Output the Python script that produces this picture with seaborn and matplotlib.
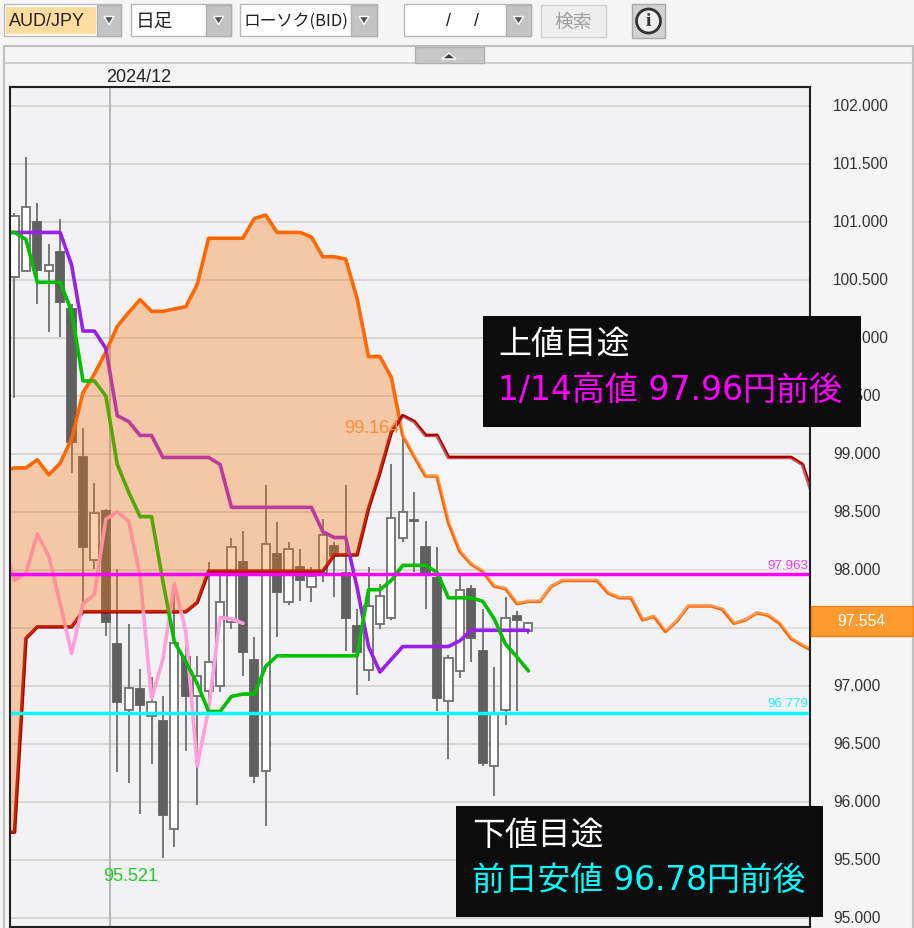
import numpy as np
import pandas as pd
import matplotlib
matplotlib.use('Agg')
import matplotlib.pyplot as plt
import seaborn as sns
from matplotlib.patches import Rectangle, Polygon, Ellipse
from matplotlib.transforms import ScaledTranslation

# AUD/JPY daily chart
opens = [100.53, 100.58, 101.00, 100.58, 100.74, 100.25, 98.97, 98.09, 98.51, 97.36,
         96.79, 96.97, 96.74, 96.70, 95.77, 97.25, 96.91, 96.96, 97.00, 97.55,
         98.07, 97.22, 96.27, 98.14, 97.72, 98.03, 97.85, 97.97, 98.21, 97.97,
         97.52, 97.14, 97.53, 97.59, 98.28, 98.43, 98.20, 97.93, 96.87, 97.13,
         97.84, 97.30, 96.31, 96.79, 97.60, 97.47]
highs = [101.08, 101.56, 101.16, 100.81, 101.03, 100.29, 99.22, 98.75, 98.53, 98.01,
         97.53, 97.15, 97.08, 96.91, 97.88, 97.47, 97.26, 98.07, 97.99, 98.28,
         98.34, 97.42, 98.73, 98.41, 98.24, 98.18, 98.03, 98.44, 98.24, 98.73,
         97.66, 98.03, 97.88, 98.91, 99.16, 98.67, 98.42, 98.20, 97.27, 97.95,
         97.87, 97.66, 97.16, 97.77, 97.65, 97.55]
lows = [99.48, 100.58, 100.29, 100.05, 100.01, 98.84, 97.71, 98.01, 97.43, 96.26,
        96.16, 95.90, 96.33, 95.52, 95.61, 96.44, 95.97, 96.86, 96.95, 97.49,
        97.09, 96.16, 95.79, 97.42, 97.70, 97.73, 97.72, 97.90, 97.77, 97.30,
        96.92, 97.04, 97.49, 97.57, 98.24, 97.98, 97.66, 96.78, 96.37, 97.07,
        97.21, 96.31, 96.05, 96.66, 96.78, 97.45]
closes = [101.05, 101.13, 100.59, 100.63, 100.31, 99.10, 98.20, 98.49, 97.55, 96.86,
          96.98, 96.84, 96.86, 95.89, 97.37, 96.91, 97.09, 97.21, 97.72, 98.20,
          97.29, 96.22, 98.22, 97.81, 98.18, 97.91, 97.95, 98.30, 98.12, 97.59,
          97.29, 97.69, 97.78, 98.45, 98.50, 98.42, 97.97, 96.90, 97.24, 97.83,
          97.41, 96.34, 96.76, 97.59, 97.57, 97.54]

# these four start one day left of the first candle (clipped by the frame)
tenkan = [100.91, 100.91, 100.85, 100.48, 100.48, 100.48, 100.23, 99.63, 99.63, 99.50,
          98.91, 98.67, 98.46, 98.46, 97.90, 97.38, 97.21, 97.02, 96.78, 96.78,
          96.91, 96.93, 96.93, 97.17, 97.26, 97.26, 97.26, 97.26, 97.26, 97.26,
          97.26, 97.26, 97.83, 97.83, 97.91, 98.04, 98.04, 98.04, 97.98, 97.76,
          97.76, 97.76, 97.73, 97.58, 97.36, 97.25, 97.13]
kijun = [100.91, 100.91, 100.91, 100.91, 100.91, 100.91, 100.63, 100.06, 100.06, 99.91,
         99.33, 99.28, 99.16, 99.16, 98.97, 98.97, 98.97, 98.97, 98.97, 98.91,
         98.54, 98.54, 98.54, 98.54, 98.54, 98.54, 98.54, 98.54, 98.33, 98.28,
         98.28, 97.85, 97.34, 97.12, 97.23, 97.34, 97.34, 97.34, 97.34, 97.34,
         97.39, 97.48, 97.48, 97.48, 97.48, 97.48, 97.48]
span_a = [98.85, 98.88, 98.88, 98.95, 98.82, 98.92, 99.13, 99.53, 99.69, 99.88,
          100.10, 100.22, 100.33, 100.23, 100.23, 100.25, 100.27, 100.46, 100.86, 100.86,
          100.86, 100.86, 101.03, 101.06, 100.91, 100.91, 100.91, 100.87, 100.70, 100.70,
          100.68, 100.34, 99.84, 99.84, 99.66, 99.16, 98.98, 98.81, 98.81, 98.41,
          98.16, 98.05, 97.99, 97.86, 97.84, 97.71, 97.73, 97.73, 97.86, 97.91,
          97.91, 97.91, 97.91, 97.80, 97.76, 97.76, 97.57, 97.60, 97.47, 97.56,
          97.69, 97.69, 97.69, 97.66, 97.54, 97.57, 97.63, 97.61, 97.54, 97.41,
          97.35, 97.30]
span_b = [95.74, 95.74, 97.41, 97.51, 97.51, 97.51, 97.51, 97.64, 97.64, 97.64,
          97.64, 97.64, 97.64, 97.64, 97.64, 97.64, 97.64, 97.72, 97.99, 97.99,
          97.99, 97.99, 97.99, 97.99, 97.99, 97.99, 97.99, 97.99, 97.99, 98.13,
          98.13, 98.13, 98.53, 98.84, 99.19, 99.33, 99.28, 99.16, 99.16, 98.97,
          98.97, 98.97, 98.97, 98.97, 98.97, 98.97, 98.97, 98.97, 98.97, 98.97,
          98.97, 98.97, 98.97, 98.97, 98.97, 98.97, 98.97, 98.97, 98.97, 98.97,
          98.97, 98.97, 98.97, 98.97, 98.97, 98.97, 98.97, 98.97, 98.97, 98.97,
          98.91, 98.61]
chikou = [98.25, 97.91, 97.97, 98.31, 98.12, 97.71, 97.28, 97.71, 97.79, 98.44,
          98.50, 98.42, 97.95, 96.89, 97.23, 97.88, 97.47, 96.31, 96.80, 97.59,
          97.58, 97.54]

resistance = 97.963
support = 96.77
last_price = 97.554
price_ticks = [95.0, 95.5, 96.0, 96.5, 97.0, 97.5, 98.0, 98.5, 99.0, 99.5, 100.0, 100.5, 101.0, 101.5, 102.0]

W, H = 914, 929
FONTS = ['Noto Sans CJK JP', 'DejaVu Sans']
CALLOUT = ['DejaVu Sans', 'Noto Sans CJK JP']
LATIN = ['Liberation Sans', 'DejaVu Sans']

sns.set_style("white")
plt.rcParams['font.family'] = FONTS

fig = plt.figure(figsize=(W / 100, H / 100), dpi=100, facecolor="#f5f5f5")
ax = fig.add_axes([10 / W, 1 - 928 / H, 800 / W, 840 / H], facecolor="#f2f2f5")


def box(x0, y0, x1, y1, color, edge="none", lw=1, z=10):
    # rectangle given in picture pixels, drawn over the axes
    fig.add_artist(Rectangle((x0 / W, 1 - y1 / H), (x1 - x0) / W, (y1 - y0) / H,
                             transform=fig.transFigure, facecolor=color, edgecolor=edge,
                             linewidth=lw, zorder=z))


def label(x, y, s, color="#222222", size=11, ha="left", family=LATIN, z=11):
    fig.text(x / W, 1 - y / H, s, color=color, fontsize=size, ha=ha, va="center",
             family=family, zorder=z)


def arrow_button(x0, y0, x1, y1):
    box(x0, y0, x1, y1, "#c4c4c4", "#b0b0b0")
    cx, cy = (x0 + x1) / 2, (y0 + y1) / 2
    pts = [((cx - 5) / W, 1 - (cy - 4) / H), ((cx + 5) / W, 1 - (cy - 4) / H), (cx / W, 1 - (cy + 4) / H)]
    fig.add_artist(Polygon(pts, transform=fig.transFigure, facecolor="#505050", zorder=11))


# grid and month line
for p in price_ticks:
    ax.axhline(p, color="#d4d4d4", lw=1.3, zorder=1)
ax.axvline(8.32, color="#b0b0b0", lw=1.3, zorder=1)

# candles
days = np.arange(len(opens))
candles = pd.DataFrame({"day": days, "open": opens, "high": highs, "low": lows, "close": closes})
up = candles[candles["close"] >= candles["open"]]
down = candles[candles["close"] < candles["open"]]
ax.vlines(candles["day"], candles["low"], candles["high"], color="#777777", lw=1.4, zorder=2)
ax.bar(up["day"], up["close"] - up["open"], bottom=up["open"], width=0.72,
       facecolor="white", edgecolor="#707070", lw=1.3, zorder=3)
ax.bar(down["day"], down["close"] - down["open"], bottom=down["open"], width=0.72,
       facecolor="#606060", edgecolor="#606060", lw=1.3, zorder=3)

# ichimoku lines
long_x = np.arange(len(span_a)) - 1
lines = pd.concat([
    pd.DataFrame({"x": long_x, "y": span_a, "name": "span_a"}),
    pd.DataFrame({"x": long_x, "y": span_b, "name": "span_b"}),
    pd.DataFrame({"x": np.arange(len(chikou)) - 1, "y": chikou, "name": "chikou"}),
    pd.DataFrame({"x": np.arange(len(kijun)) - 1, "y": kijun, "name": "kijun"}),
    pd.DataFrame({"x": np.arange(len(tenkan)) - 1, "y": tenkan, "name": "tenkan"}),
])
palette = {"span_a": "#ff6600", "span_b": "#a80000", "chikou": "#ff9fdc",
           "kijun": "#9a1fe8", "tenkan": "#00c000"}
sns.lineplot(data=lines, x="x", y="y", hue="name", palette=palette, estimator=None,
             sort=False, lw=2.6, legend=False, ax=ax, zorder=4)

# cloud goes over the candles and lines, orange when rising and pale when falling
a = np.array(span_a)
b = np.array(span_b)
ax.fill_between(long_x, a, b, where=a >= b, interpolate=True, color="#fa7612", alpha=0.34, lw=0, zorder=5)
ax.fill_between(long_x, a, b, where=a < b, interpolate=True, color="white", alpha=0.34, lw=0, zorder=5)

ax.axhline(resistance, color="#ff00ff", lw=2.5, zorder=6)
ax.axhline(support, color="#00ffff", lw=2.5, zorder=6)

ax.text(10.2, 95.37, "95.521", color="#22cc22", fontsize=13, family=LATIN, ha="center", va="center", zorder=7)
ax.text(31.3, 99.23, "99.164", color="#ff8c3c", fontsize=13, family=LATIN, ha="center", va="center", zorder=7)
ax.text(69.5, resistance + 0.03, "97.963", color="#ff33ff", fontsize=9.6, family=LATIN, ha="right", va="bottom", zorder=7)
ax.text(69.5, support + 0.03, "96.779", color="#22eeff", fontsize=9.6, family=LATIN, ha="right", va="bottom", zorder=7)

ax.set_xlim(-0.394, 69.66)
ax.set_ylim(94.922, 102.164)
ax.yaxis.tick_right()
ax.set_yticks(price_ticks)
# 97.500 sits under the current price tag, so it stays empty
ax.set_yticklabels(["" if p == 97.5 else f"{p:.3f}" for p in price_ticks],
                   family=LATIN, fontsize=11.2, color="#333333")
ax.tick_params(axis="y", length=0, pad=16.5)
up_2px = ScaledTranslation(0, 2 / 100, fig.dpi_scale_trans)
for t in ax.get_yticklabels():
    t.set_transform(t.get_transform() + up_2px)
ax.set_xticks([])
ax.set_xlabel("")
ax.set_ylabel("")
for side in ax.spines:
    ax.spines[side].set_visible(True)
    ax.spines[side].set_color("#202020")
    ax.spines[side].set_linewidth(1.5)
    ax.spines[side].set_zorder(8)

# toolbar and frame
fig.add_artist(plt.Line2D([4 / W, 4 / W], [0, 1 - 47 / H], color="#c0c0c0", lw=1.5, zorder=1))
fig.add_artist(plt.Line2D([913 / W, 913 / W], [0, 1 - 47 / H], color="#c0c0c0", lw=1.5, zorder=1))
fig.add_artist(plt.Line2D([4 / W, 913 / W], [1 - 47 / H, 1 - 47 / H], color="#c0c0c0", lw=1.5, zorder=1))
fig.add_artist(plt.Line2D([4 / W, 913 / W], [1 - 64 / H, 1 - 64 / H], color="#c8c8c8", lw=1.2, zorder=1))

box(4, 5, 121, 37, "white", "#b8b8b8")
box(6, 8, 96, 35, "#ffdca0")
arrow_button(97, 6, 121, 37)
label(9, 21, "AUD/JPY", size=13)
box(131, 5, 231, 37, "white", "#b8b8b8")
arrow_button(206, 6, 231, 37)
label(136, 21, "日足", size=13.5, family=FONTS)
box(240, 5, 377, 37, "white", "#b8b8b8")
arrow_button(351, 6, 377, 37)
label(244, 21, "ローソク(BID)", size=12, family=FONTS)
box(404, 5, 531, 37, "white", "#b8b8b8")
arrow_button(506, 6, 531, 37)
label(448, 21, "/", size=13, ha="center")
label(476, 21, "/", size=13, ha="center")
box(541, 6, 606, 38, "#eeeeee", "#d0d0d0")
label(573, 22, "検索", color="#a0a0a0", size=13.5, ha="center", family=FONTS)
box(632, 5, 665, 39, "#d2d2d2", "#a8a8a8")
fig.add_artist(Ellipse((648.5 / W, 1 - 22 / H), 24 / W, 24 / H, transform=fig.transFigure,
                       facecolor="#eeeeee", edgecolor="#333333", lw=2, zorder=11))
fig.text(648.5 / W, 1 - 22 / H, "i", color="#333333", fontsize=14, fontweight="bold", ha="center",
         va="center", family=["Liberation Serif", "DejaVu Serif"], zorder=12)
box(415, 48, 484, 64, "#c8c8c8", "#b0b0b0")
fig.add_artist(Polygon([(442 / W, 1 - 60 / H), (456 / W, 1 - 60 / H), (449 / W, 1 - 54 / H)],
                       transform=fig.transFigure, facecolor="#404040", zorder=11))
label(139, 77, "2024/12", size=13, ha="center")

# current price tag
box(811, 607, 913, 637, "#ff9a2e", "#f08010")
label(861, 622, f"{last_price:.3f}", color="white", size=11.3, ha="center")

# callouts
box(483, 317, 861, 428, "#0c0c0c")
label(498, 345, "上値目途", color="white", size=23.7, family=FONTS)
label(498, 390, "1/14高値 97.96円前後", color="#ff00ff", size=23.8, family=CALLOUT)
box(456, 807, 823, 918, "#0c0c0c")
label(472, 836, "下値目途", color="white", size=23.7, family=FONTS)
label(472, 880, "前日安値 96.78円前後", color="#00ffff", size=23.6, family=CALLOUT)

fig.savefig("out.png", dpi=100, facecolor=fig.get_facecolor())
plt.close(fig)
